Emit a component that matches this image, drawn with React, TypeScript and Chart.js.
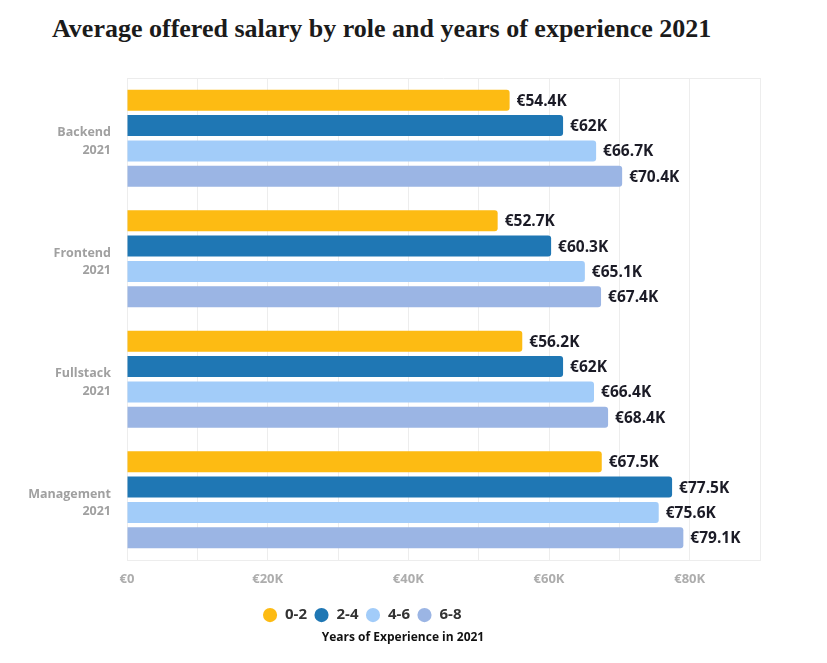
import React, { useEffect, useRef } from 'react';
import { Chart, registerables } from 'chart.js';

Chart.register(...registerables);

const chartTitle = 'Average offered salary by role and years of experience 2021';
const axisCaption = 'Years of Experience in 2021';
const categories = [
  ['Backend', '2021'],
  ['Frontend', '2021'],
  ['Fullstack', '2021'],
  ['Management', '2021'],
];
const seriesLabels = ['0-2', '2-4', '4-6', '6-8'];
const exp0to2 = [54400, 52700, 56200, 67500];
const exp2to4 = [62000, 60300, 62000, 77500];
const exp4to6 = [66700, 65100, 66400, 75600];
const exp6to8 = [70400, 67400, 68400, 79100];
const xMax = 90000;
const xGridStep = 10000;
const xLabelStep = 20000;
const seriesColors = ['#FDBB13', '#1F77B4', '#A2CCF9', '#9BB5E4'];

const SANS = '"Open Sans", "Noto Sans", sans-serif';

const fmtK = (v: number) => (v === 0 ? '€0' : '€' + v / 1000 + 'K');

const valueLabels = {
  id: 'valueLabels',
  afterDatasetsDraw(chart: any) {
    const ctx = chart.ctx;
    ctx.save();
    ctx.font = `bold 15.5px ${SANS}`;
    ctx.fillStyle = '#1b1b26';
    ctx.textBaseline = 'middle';
    ctx.textAlign = 'left';
    chart.data.datasets.forEach((ds: any, i: number) => {
      const meta = chart.getDatasetMeta(i);
      meta.data.forEach((bar: any, j: number) => {
        ctx.fillText(fmtK(ds.data[j]), bar.x + 7, bar.y + 1);
      });
    });
    ctx.restore();
  },
};

const topBorder = {
  id: 'topBorder',
  beforeDatasetsDraw(chart: any) {
    const { ctx, chartArea } = chart;
    ctx.save();
    ctx.strokeStyle = '#ececec';
    ctx.lineWidth = 1;
    ctx.beginPath();
    ctx.moveTo(chartArea.left, chartArea.top + 0.5);
    ctx.lineTo(chartArea.right, chartArea.top + 0.5);
    ctx.stroke();
    ctx.restore();
  },
};

const shiftBottomBlocks = {
  id: 'shiftBottomBlocks',
  beforeDraw(chart: any) {
    const l = chart.legend;
    if (l) {
      l.left -= 22;
      l.right -= 22;
    }
    (chart.boxes || []).forEach((b: any) => {
      if (b && b.options && b.options.text === axisCaption) {
        b.left += 19;
        b.right += 19;
      }
    });
  },
};

export default function App() {
  const ref = useRef<HTMLCanvasElement | null>(null);

  useEffect(() => {
    if (!ref.current) return;
    const allSeries = [exp0to2, exp2to4, exp4to6, exp6to8];
    const chart = new Chart(ref.current, {
      type: 'bar',
      data: {
        labels: categories,
        datasets: allSeries.map((d, i) => ({
          label: seriesLabels[i],
          data: d,
          backgroundColor: seriesColors[i],
          borderRadius: 3,
          borderSkipped: 'start',
          categoryPercentage: 0.84,
          barPercentage: 0.83,
        })),
      },
      options: {
        indexAxis: 'y',
        animation: false,
        responsive: true,
        maintainAspectRatio: false,
        layout: { padding: { top: 18, right: 59, bottom: 4, left: 0 } },
        scales: {
          x: {
            min: 0,
            max: xMax,
            grid: { color: '#ededed', drawTicks: false },
            border: { display: true, color: '#ededed' },
            ticks: {
              stepSize: xGridStep,
              padding: 11,
              color: '#adadad',
              font: { family: SANS, size: 13, weight: 'bold' },
              callback: (v: any) => (Number(v) % xLabelStep === 0 ? fmtK(Number(v)) : ''),
            },
            afterFit: (axis: any) => {
              axis.height += 3;
            },
          },
          y: {
            grid: { display: false, drawTicks: false },
            border: { display: false },
            ticks: {
              padding: 16,
              labelOffset: 3,
              color: '#a0a0a0',
              font: { family: SANS, size: 12.5, weight: 'bold', lineHeight: 1.4 },
            },
            afterFit: (axis: any) => {
              axis.width = 119;
              axis.paddingTop = 0;
              axis.paddingBottom = 0;
            },
          },
        },
        plugins: {
          legend: {
            position: 'bottom',
            labels: {
              usePointStyle: true,
              pointStyle: 'circle',
              boxHeight: 10,
              padding: 7,
              color: '#333',
              font: { family: SANS, size: 15, weight: 'bold' },
            },
          },
          subtitle: {
            display: true,
            position: 'bottom',
            text: axisCaption,
            color: '#111',
            font: { family: SANS, size: 12, weight: 'bold' },
            padding: { top: -2, bottom: 6 },
          },
          tooltip: { enabled: false },
        },
      },
      plugins: [valueLabels, topBorder, shiftBottomBlocks],
    } as any);
    return () => chart.destroy();
  }, []);

  return (
    <div style={{ width: 811 }}>
      <div
        style={{
          height: 52,
          lineHeight: '42px',
          paddingLeft: 44,
          fontFamily: '"Liberation Serif", "DejaVu Serif", serif',
          fontWeight: 'bold',
          fontSize: 26,
          color: '#1b1b1b',
          whiteSpace: 'nowrap',
        }}
      >
        {chartTitle}
      </div>
      <div style={{ position: 'relative', width: 811, height: 595 }}>
        <canvas ref={ref} />
      </div>
    </div>
  );
}
